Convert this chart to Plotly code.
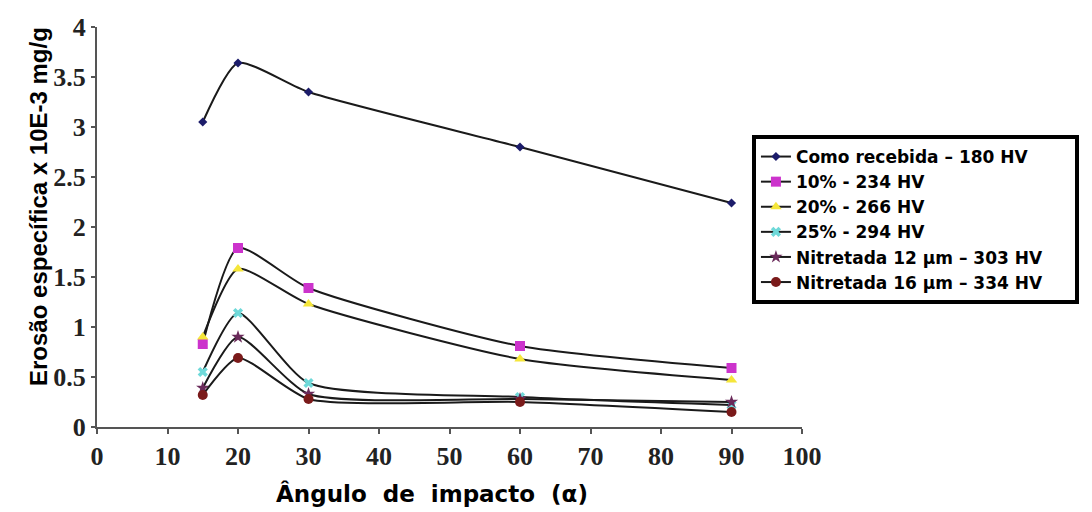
import plotly.graph_objects as go

angles = [15, 20, 30, 60, 90]

series_names = [
    "Como recebida \u2013 180 HV",
    "10% - 234 HV",
    "20% - 266 HV",
    "25% - 294 HV",
    "Nitretada 12 \u00b5m \u2013 303 HV",
    "Nitretada 16 \u00b5m \u2013 334 HV",
]
como_recebida = [3.05, 3.64, 3.35, 2.80, 2.24]
pct10 = [0.83, 1.79, 1.39, 0.81, 0.59]
pct20 = [0.90, 1.58, 1.23, 0.68, 0.47]
pct25 = [0.55, 1.14, 0.44, 0.30, 0.22]
nitr12 = [0.39, 0.90, 0.33, 0.28, 0.25]
nitr16 = [0.32, 0.69, 0.28, 0.25, 0.15]
series_values = [como_recebida, pct10, pct20, pct25, nitr12, nitr16]

marker_colors = ["#1c1c6a", "#cc33cc", "#f5e63a", "#6fd9d9", "#6a2a5a", "#7a1a1a"]
marker_symbols = ["diamond", "square", "triangle-up", "x", "star", "circle"]
marker_sizes = [7, 10, 10, 9, 10, 10]

x_ticks = [0, 10, 20, 30, 40, 50, 60, 70, 80, 90, 100]
y_ticks = [0, 0.5, 1, 1.5, 2, 2.5, 3, 3.5, 4]

fig = go.Figure()
for i, (name, vals) in enumerate(zip(series_names, series_values)):
    fig.add_trace(go.Scatter(
        x=angles, y=vals, name=f"<b>{name}</b>" + "\u00a0" * 5, mode="lines+markers",
        line=dict(color="#1a1a1a", width=2, shape="spline", smoothing=0.6),
        marker=dict(color=marker_colors[i], symbol=marker_symbols[i], size=marker_sizes[i],
                    line=dict(width=0)),
    ))

tickfont = dict(family="Liberation Serif, Times New Roman, serif", size=26, color="#222")

fig.update_layout(
    width=1092, height=512,
    margin=dict(l=97, r=290, t=27, b=85),
    paper_bgcolor="white", plot_bgcolor="white",
    showlegend=True,
    legend=dict(
        x=0.929, xanchor="left", y=0.73, yanchor="top",
        bgcolor="white", bordercolor="black", borderwidth=4,
        font=dict(family="DejaVu Sans, Verdana, sans-serif", size=17, color="black"),
    ),
    xaxis=dict(
        range=[0, 100], tickvals=x_ticks, ticktext=[f"<b>{t}</b>" for t in x_ticks],
        showgrid=False, zeroline=False, showline=True, linecolor="#555", linewidth=2,
        ticks="outside", ticklen=5, tickwidth=1.5, tickcolor="#555",
        tickfont=tickfont,
    ),
    yaxis=dict(
        range=[0, 4], tickvals=y_ticks, ticktext=[f"<b>{t}</b>" for t in y_ticks],
        showgrid=False, zeroline=False, showline=True, linecolor="#555", linewidth=2,
        ticks="outside", ticklen=4, tickwidth=1.5, tickcolor="#555",
        tickfont=tickfont,
    ),
    annotations=[
        dict(text="<b>Eros\u00e3o espec\u00edfica x 10E-3 mg/g</b>", xref="paper", yref="paper",
             x=(39 - 97) / 705, y=0.55, xanchor="center", yanchor="middle", textangle=-90,
             showarrow=False,
             font=dict(family="Liberation Sans, Arial, sans-serif", size=24, color="black")),
        dict(text="<b>\u00c2ngulo\u00a0 de\u00a0 impacto\u00a0 (\u03b1)</b>", xref="paper", yref="paper",
             x=(432 - 97) / 705, y=-(493 - 427) / 400, xanchor="center", yanchor="middle",
             showarrow=False,
             font=dict(family="DejaVu Sans, Verdana, sans-serif", size=23, color="black")),
    ],
)

fig.write_html("out.html")
